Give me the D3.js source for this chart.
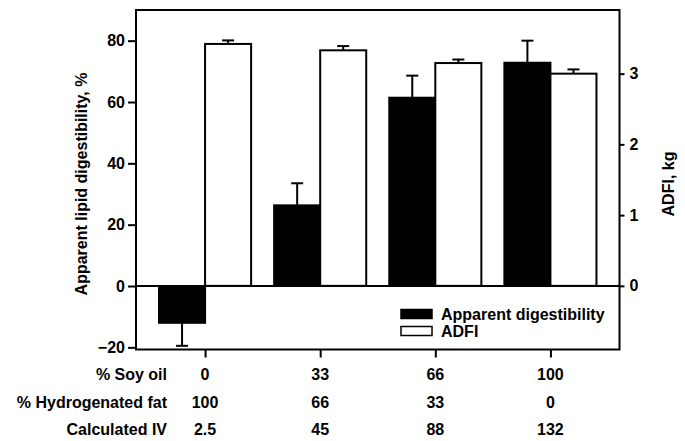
<!DOCTYPE html>
<meta charset="utf-8">
<style>
body {
	margin: 0;
	background: #fff;
}
svg text {
	font-family: "Liberation Sans", Arial, sans-serif;
	font-weight: bold;
	font-size: 16px;
	fill: #000;
}
.axis path {
	display: none;
}
.axis line {
	stroke: #000;
	stroke-width: 2;
}
</style>
<body>
<svg width="685" height="441"></svg>
<script src="https://d3js.org/d3.v7.min.js"></script>
<script>

var soyOil = ["0", "33", "66", "100"];
var hydroFat = ["100", "66", "33", "0"];
var calcIV = ["2.5", "45", "88", "132"];

var digest = [-12.0, 26.3, 61.4, 72.8];
var digestSE = [7.5, 7.2, 7.2, 7.2];
var adfi = [3.42, 3.33, 3.15, 3.00];
var adfiSE = [0.05, 0.06, 0.05, 0.06];

var leftTicks = [-20, 0, 20, 40, 60, 80];
var rightTicks = [0, 1, 2, 3];

var margin = {top: 10, right: 65.5, bottom: 91.5, left: 136};
var width = 685, height = 441;

var svg = d3.select("svg");

var x = d3.scalePoint()
	.domain(soyOil)
	.range([margin.left, width - margin.right])
	.padding(0.6);

var y = d3.scaleLinear()
	.domain([-20.7, 90])
	.range([height - margin.bottom, margin.top]);

var y2 = d3.scaleLinear()
	.domain([-0.9, 3.9])
	.range([height - margin.bottom, margin.top]);

var barW = x.step() * 0.4;

// black bars: digestibility, left of tick
svg.selectAll(".dig")
	.data(digest)
	.enter().append("rect")
	.attr("x", function(d, i) { return x(soyOil[i]) - barW; })
	.attr("y", function(d) { return Math.min(y(d), y(0)); })
	.attr("width", barW)
	.attr("height", function(d) { return Math.abs(y(d) - y(0)); })
	.attr("fill", "#000")
	.attr("stroke", "#000")
	.attr("stroke-width", 2);

// white bars: ADFI, right of tick
svg.selectAll(".adfi")
	.data(adfi)
	.enter().append("rect")
	.attr("x", function(d, i) { return x(soyOil[i]); })
	.attr("y", function(d) { return y2(d); })
	.attr("width", barW)
	.attr("height", function(d) { return y2(0) - y2(d); })
	.attr("fill", "#fff")
	.attr("stroke", "#000")
	.attr("stroke-width", 2);

function errorBar(cx, y0, y1) {
	svg.append("line")
		.attr("x1", cx).attr("x2", cx)
		.attr("y1", y0).attr("y2", y1)
		.attr("stroke", "#000").attr("stroke-width", 2);
	svg.append("line")
		.attr("x1", cx - 6).attr("x2", cx + 6)
		.attr("y1", y1).attr("y2", y1)
		.attr("stroke", "#000").attr("stroke-width", 2);
}

digest.forEach(function(d, i) {
	var e = d < 0 ? d - digestSE[i] : d + digestSE[i];
	errorBar(x(soyOil[i]) - barW / 2, y(d), y(e));
});
adfi.forEach(function(d, i) {
	errorBar(x(soyOil[i]) + barW / 2, y2(d), y2(d + adfiSE[i]));
});

// zero line
svg.append("line")
	.attr("x1", margin.left).attr("x2", width - margin.right)
	.attr("y1", y(0)).attr("y2", y(0))
	.attr("stroke", "#000").attr("stroke-width", 2);

// frame
svg.append("rect")
	.attr("x", margin.left)
	.attr("y", margin.top)
	.attr("width", width - margin.right - margin.left)
	.attr("height", height - margin.bottom - margin.top)
	.attr("fill", "none")
	.attr("stroke", "#000")
	.attr("stroke-width", 2);

svg.append("g")
	.attr("class", "axis")
	.attr("transform", "translate(" + margin.left + ",0)")
	.call(d3.axisLeft(y).tickValues(leftTicks).tickSize(8).tickPadding(3)
		.tickFormat(function(d) { return d < 0 ? "\u2212" + Math.abs(d) : d; }))
	.selectAll("text").attr("fill", "#000");

svg.append("g")
	.attr("class", "axis")
	.attr("transform", "translate(" + (width - margin.right) + ",0)")
	.call(d3.axisRight(y2).tickValues(rightTicks).tickSize(5).tickPadding(5)
		.tickFormat(d3.format("d")))
	.selectAll("text").attr("fill", "#000");

svg.append("g")
	.attr("class", "axis")
	.attr("transform", "translate(0," + (height - margin.bottom) + ")")
	.call(d3.axisBottom(x).tickSize(8).tickFormat(""));

// axis titles
svg.append("text")
	.attr("transform", "translate(87," + 184 + ") rotate(-90)")
	.attr("text-anchor", "middle")
	.text("Apparent lipid digestibility, %");

svg.append("text")
	.attr("transform", "translate(674," + 184 + ") rotate(-90)")
	.attr("text-anchor", "middle")
	.text("ADFI, kg");

// table under the axis
var rows = [
	{label: "% Soy oil", values: soyOil, y: 380},
	{label: "% Hydrogenated fat", values: hydroFat, y: 408},
	{label: "Calculated IV", values: calcIV, y: 435}
];
rows.forEach(function(r) {
	svg.append("text")
		.attr("x", 167).attr("y", r.y)
		.attr("text-anchor", "end")
		.text(r.label);
	r.values.forEach(function(v, i) {
		svg.append("text")
			.attr("x", x(soyOil[i])).attr("y", r.y)
			.attr("text-anchor", "middle")
			.text(v);
	});
});

// legend
var legend = [
	{name: "Apparent digestibility", fill: "#000", y: 309.5},
	{name: "ADFI", fill: "#fff", y: 326.5}
];
legend.forEach(function(l) {
	svg.append("rect")
		.attr("x", 401).attr("y", l.y)
		.attr("width", 31).attr("height", 9)
		.attr("fill", l.fill)
		.attr("stroke", "#000").attr("stroke-width", 1.5);
	svg.append("text")
		.attr("x", 441).attr("y", l.y + 10)
		.text(l.name);
});

</script>
</body>
